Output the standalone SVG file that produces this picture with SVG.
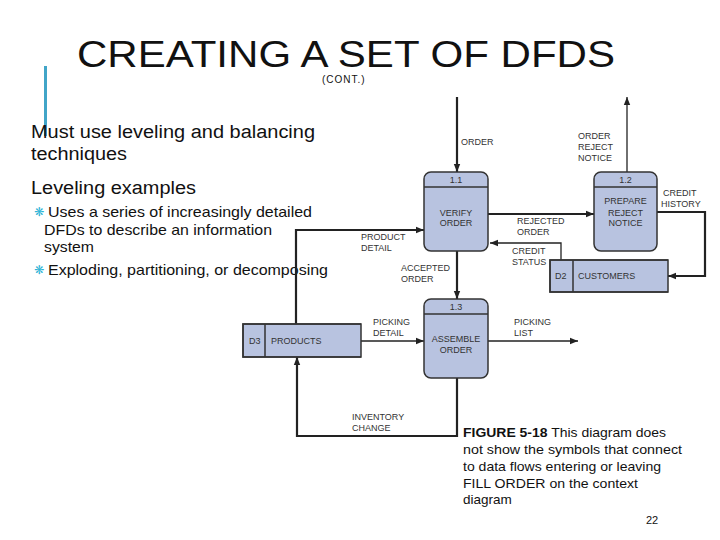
<svg xmlns="http://www.w3.org/2000/svg" width="720" height="540" viewBox="0 0 720 540">
<defs>
<style>
.title{font-family:"Liberation Sans",Arial,sans-serif;font-size:37px;fill:#111}
.body{font-family:"Liberation Sans",Arial,sans-serif;fill:#111}
.lbl{font-family:"Liberation Sans",Arial,sans-serif;font-size:9px;fill:#333}
.ctr{text-anchor:middle}
.proc{fill:#b8c3e0;stroke:#333;stroke-width:1.5}
.store{fill:#b8c3e0;stroke:#333;stroke-width:1.5}
.thick{fill:none;stroke:#222;stroke-width:2.2}
.thin{fill:none;stroke:#222;stroke-width:1.3}
.bul{fill:#2bb3d6;font-family:"DejaVu Sans",sans-serif;font-size:12px}
</style>
<marker id="ah" viewBox="0 0 10 10" refX="10" refY="5" markerWidth="8" markerHeight="8" markerUnits="userSpaceOnUse" orient="auto">
<path d="M0,1 L10,5 L0,9 Z" fill="#222"/>
</marker>
</defs>
<rect width="720" height="540" fill="#fff"/>
<g id="heading">
<rect x="44" y="66" width="3" height="70" fill="#41a5c8"/>
<text class="title" x="77" y="67" textLength="538" lengthAdjust="spacingAndGlyphs">CREATING A SET OF DFDS</text>
<text class="body" x="322" y="83" font-size="10" letter-spacing="1">(CONT.)</text>
</g>
<g id="bullets">
<text class="body" x="31" y="138" font-size="18" textLength="284" lengthAdjust="spacingAndGlyphs">Must use leveling and balancing</text>
<text class="body" x="31" y="160" font-size="18" textLength="96" lengthAdjust="spacingAndGlyphs">techniques</text>
<text class="body" x="31" y="194" font-size="18" textLength="165" lengthAdjust="spacingAndGlyphs">Leveling examples</text>
<text class="bul" x="34" y="216">❋</text>
<text class="body" x="48" y="217" font-size="15" textLength="264" lengthAdjust="spacingAndGlyphs">Uses a series of increasingly detailed</text>
<text class="body" x="44" y="235" font-size="15" textLength="228" lengthAdjust="spacingAndGlyphs">DFDs to describe an information</text>
<text class="body" x="44" y="252" font-size="15" textLength="50" lengthAdjust="spacingAndGlyphs">system</text>
<text class="bul" x="34" y="274">❋</text>
<text class="body" x="48" y="275" font-size="15" textLength="280" lengthAdjust="spacingAndGlyphs">Exploding, partitioning, or decomposing</text>
</g>
<g id="connectors">
<path class="thick" d="M457,97 V172" marker-end="url(#ah)"/>
<path class="thin" d="M627,172 V97" marker-end="url(#ah)"/>
<path class="thick" d="M488,214 H594" marker-end="url(#ah)"/>
<path class="thick" d="M296,324 V230 H424" marker-end="url(#ah)"/>
<path class="thin" d="M561,260 V243 H490" marker-end="url(#ah)"/>
<path class="thick" d="M657,212 H705 V276 H668" marker-end="url(#ah)"/>
<path class="thick" d="M457,251 V299" marker-end="url(#ah)"/>
<path class="thin" d="M361,341 H424" marker-end="url(#ah)"/>
<path class="thin" d="M488,341 H578" marker-end="url(#ah)"/>
<path class="thick" d="M457,378 V436 H297 V357" marker-end="url(#ah)"/>
<text class="lbl" x="461" y="145">ORDER</text>
<text class="lbl" x="578" y="139">ORDER</text>
<text class="lbl" x="578" y="150">REJECT</text>
<text class="lbl" x="578" y="161">NOTICE</text>
<text class="lbl" x="663" y="196">CREDIT</text>
<text class="lbl" x="661" y="207">HISTORY</text>
<text class="lbl" x="517" y="224">REJECTED</text>
<text class="lbl" x="517" y="235">ORDER</text>
<text class="lbl" x="361" y="240">PRODUCT</text>
<text class="lbl" x="361" y="251">DETAIL</text>
<text class="lbl" x="512" y="254">CREDIT</text>
<text class="lbl" x="512" y="265">STATUS</text>
<text class="lbl" x="401" y="271">ACCEPTED</text>
<text class="lbl" x="401" y="282">ORDER</text>
<text class="lbl" x="373" y="325">PICKING</text>
<text class="lbl" x="373" y="336">DETAIL</text>
<text class="lbl" x="514" y="325">PICKING</text>
<text class="lbl" x="514" y="336">LIST</text>
<text class="lbl" x="352" y="420">INVENTORY</text>
<text class="lbl" x="352" y="431">CHANGE</text>
</g>
<g id="p11">
<rect class="proc" x="424" y="172" width="64" height="79" rx="7"/>
<line x1="424" y1="187" x2="488" y2="187" stroke="#333" stroke-width="1.5"/>
<text class="lbl ctr" x="456" y="183">1.1</text>
<text class="lbl ctr" x="456" y="216">VERIFY</text>
<text class="lbl ctr" x="456" y="226">ORDER</text>
</g>
<g id="p12">
<rect class="proc" x="594" y="172" width="63" height="79" rx="7"/>
<line x1="594" y1="187" x2="657" y2="187" stroke="#333" stroke-width="1.5"/>
<text class="lbl ctr" x="625.5" y="183">1.2</text>
<text class="lbl ctr" x="625.5" y="204">PREPARE</text>
<text class="lbl ctr" x="625.5" y="216">REJECT</text>
<text class="lbl ctr" x="625.5" y="226">NOTICE</text>
</g>
<g id="p13">
<rect class="proc" x="424" y="299" width="64" height="79" rx="7"/>
<line x1="424" y1="314" x2="488" y2="314" stroke="#333" stroke-width="1.5"/>
<text class="lbl ctr" x="456" y="310">1.3</text>
<text class="lbl ctr" x="456" y="342">ASSEMBLE</text>
<text class="lbl ctr" x="456" y="353">ORDER</text>
</g>
<g id="d2">
<rect class="store" x="550" y="260" width="118" height="32" stroke="none"/>
<path d="M668,260 H550 V292 H668 M573,260 V292" fill="none" stroke="#333" stroke-width="1.5"/>
<text class="lbl" x="555" y="279">D2</text>
<text class="lbl" x="578" y="279">CUSTOMERS</text>
</g>
<g id="d3">
<rect class="store" x="243" y="324" width="118" height="33" stroke="none"/>
<path d="M361,324 H243 V357 H361 M265,324 V357" fill="none" stroke="#333" stroke-width="1.5"/>
<text class="lbl" x="249" y="344">D3</text>
<text class="lbl" x="271" y="344">PRODUCTS</text>
</g>
<g id="caption">
<text class="body" x="463" y="437" font-size="13.5" textLength="203" lengthAdjust="spacingAndGlyphs"><tspan font-weight="bold">FIGURE 5-18</tspan> This diagram does</text>
<text class="body" x="463" y="454" font-size="13.5" textLength="219" lengthAdjust="spacingAndGlyphs">not show  the symbols that connect</text>
<text class="body" x="463" y="471" font-size="13.5" textLength="198" lengthAdjust="spacingAndGlyphs">to data flows entering or leaving</text>
<text class="body" x="463" y="488" font-size="13.5" textLength="175" lengthAdjust="spacingAndGlyphs">FILL ORDER on the context</text>
<text class="body" x="463" y="504" font-size="13.5">diagram</text>
<text class="body" x="646" y="524" font-size="11">22</text>
</g>
</svg>
